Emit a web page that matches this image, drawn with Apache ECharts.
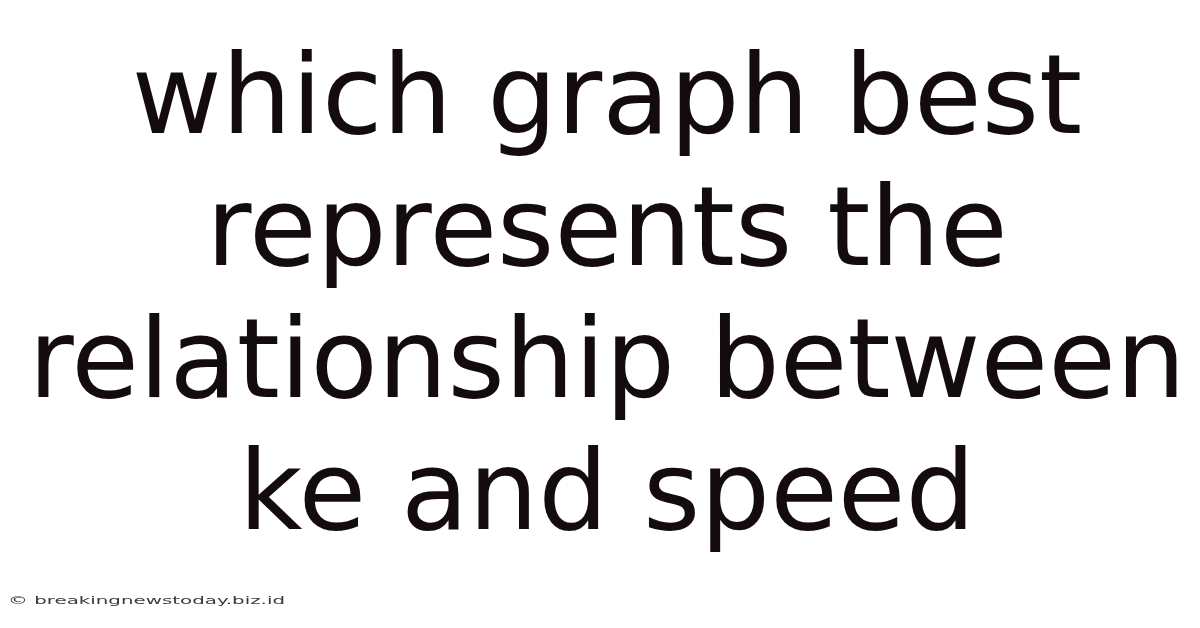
<!DOCTYPE html>
<html><head><meta charset="utf-8">
<script src="https://cdn.jsdelivr.net/npm/echarts@6/dist/echarts.min.js"></script>
<style>html,body{margin:0;padding:0;background:#fff}#c{width:1200px;height:628px}</style>
</head><body><div id="c"></div>
<script>
const titleLines = ["which graph best", "represents the", "relationship between", "ke and speed"];
const watermark = "\u00a9 breakingnewstoday.biz.id";

const chart = echarts.init(document.getElementById('c'), null, {renderer: 'canvas'});
const fontSize = 110;
const lineGap = 132;
const firstMiddle = 104;
const elements = titleLines.map((t, i) => ({
  type: 'text',
  x: 607,
  y: firstMiddle + i * lineGap,
  style: {
    text: t,
    fontFamily: 'DejaVu Sans',
    fontSize: fontSize,
    fill: '#140c0c',
    align: 'center',
    verticalAlign: 'middle'
  }
}));
// watermark: narrow font stretched horizontally to reference width
const wmFont = '10px "DejaVu Sans"';
const cv = document.createElement('canvas').getContext('2d');
cv.font = wmFont;
const wmWidth = cv.measureText(watermark).width;
const wmTarget = 277;
elements.push({
  type: 'text',
  x: 8,
  y: 601,
  scaleX: wmTarget / wmWidth,
  style: {
    text: watermark,
    fontFamily: 'DejaVu Sans',
    fontSize: 10,
    fill: '#3a3a3a',
    align: 'left',
    verticalAlign: 'middle'
  }
});
chart.setOption({
  backgroundColor: '#ffffff',
  animation: false,
  graphic: {elements: elements}
});
</script></body></html>
